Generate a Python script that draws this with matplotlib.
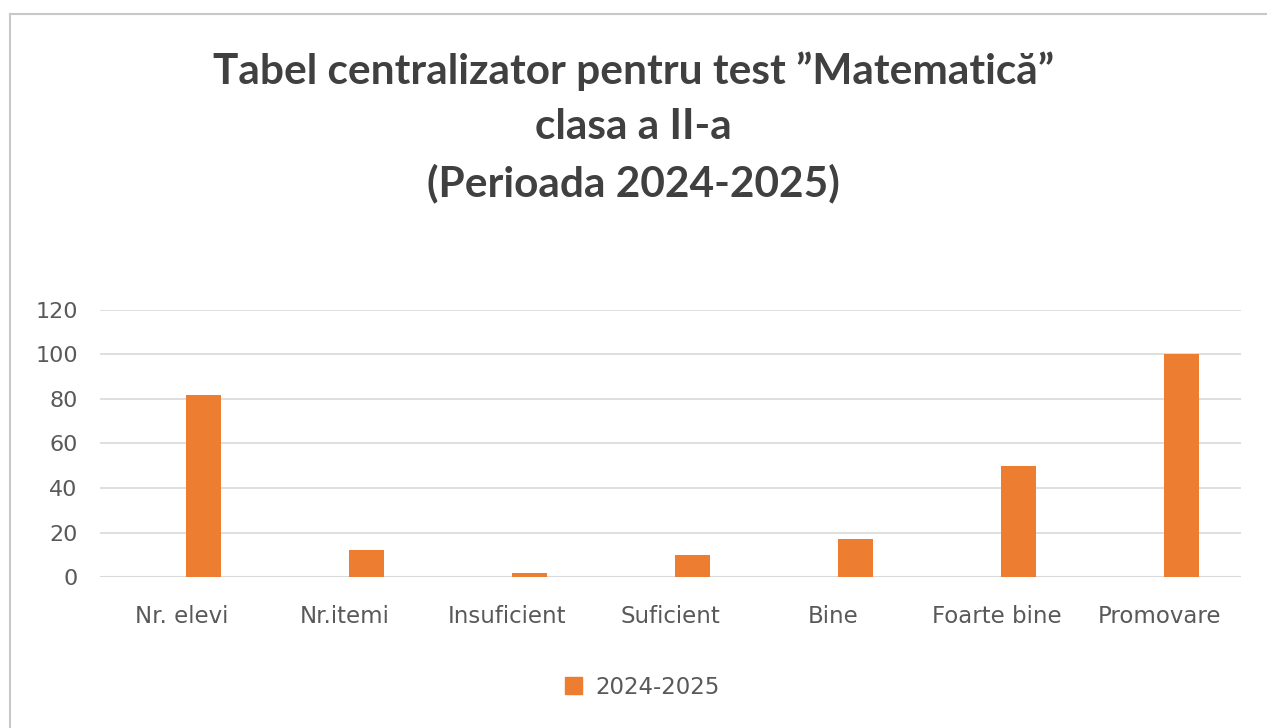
import matplotlib.pyplot as plt
import numpy as np
from matplotlib.lines import Line2D
from matplotlib.patches import Patch

categories = ['Nr. elevi', 'Nr.itemi', 'Insuficient', 'Suficient', 'Bine', 'Foarte bine', 'Promovare']
values = [82, 12, 2, 10, 17, 50, 100]
series_name = '2024-2025'
yticks = [0, 20, 40, 60, 80, 100, 120]

ORANGE = '#ED7D31'
GRAY = '#595959'
GRID = '#d9d9d9'
TICK_FONT = 'DejaVu Sans'

fig = plt.figure(figsize=(12.67, 7.28), dpi=100)
ax = fig.add_axes([0.0789, 0.2074, 0.9006, 0.3668])

x = np.arange(len(categories))
ax.bar(x + 0.135, values, width=0.21, color=ORANGE, zorder=3)

ax.set_xlim(-0.5, len(categories) - 0.5)
ax.set_ylim(0, 120)
ax.set_yticks(yticks)
ax.set_xticks(x)
ax.set_xticklabels(categories)
ax.grid(axis='y', color=GRID, linewidth=1.2, zorder=0)
for s in ax.spines.values():
    s.set_visible(False)
ax.axhline(0, color=GRID, linewidth=1.5, zorder=2)
ax.tick_params(length=0)
ax.tick_params(axis='y', pad=16, labelsize=16, labelcolor=GRAY)
ax.tick_params(axis='x', pad=20, labelsize=16.5, labelcolor=GRAY)
for lab in ax.get_xticklabels() + ax.get_yticklabels():
    lab.set_fontfamily(TICK_FONT)

fig.text(0.5, 0.825, 'Tabel centralizator pentru test ”Matematică”\nclasa a II-a\n(Perioada 2024-2025)',
         ha='center', va='center', fontsize=30.5, fontweight='bold', color='#404040',
         family='Lato', linespacing=1.55)

leg = fig.legend(handles=[Patch(color=ORANGE, label=series_name)], loc='center',
                 bbox_to_anchor=(0.507, 0.056), frameon=False, handlelength=0.75, handleheight=0.75,
                 handletextpad=0.6, prop={'family': TICK_FONT, 'size': 16.5})
for t in leg.get_texts():
    t.set_color(GRAY)

# chart frame
fig.add_artist(Line2D([10 / 1267, 1], [1 - 14 / 728, 1 - 14 / 728], color='#c8c8c8', linewidth=1.5))
fig.add_artist(Line2D([10 / 1267, 10 / 1267], [0, 1 - 14 / 728], color='#c8c8c8', linewidth=1.5))

fig.savefig('out.png', dpi=100)
